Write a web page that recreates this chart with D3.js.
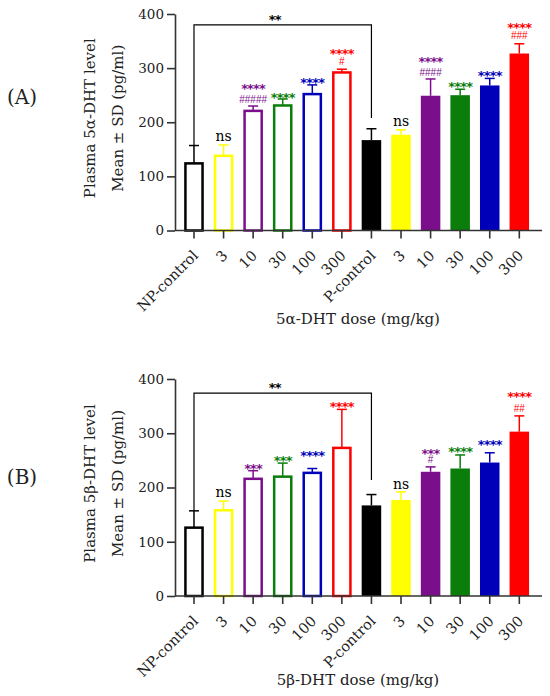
<!DOCTYPE html>
<html><head><meta charset="utf-8">
<script src="https://cdn.jsdelivr.net/npm/d3@7"></script>
<style>body{margin:0;background:#fff}</style>
</head><body>
<svg id="c" width="550" height="696"></svg>
<script>
// ---------- data ----------
const categories = ["NP-control","3","10","30","100","300","P-control","3","10","30","100","300"];
const barColors = ["#000000","#ffff00","#7b0f8b","#0a7d0a","#0000b8","#ff0000","#000000","#ffff00","#7b0f8b","#0a7d0a","#0000b8","#ff0000"];
const filled = [false,false,false,false,false,false,true,true,true,true,true,true];
const yTicks = [0,100,200,300,400];

// Panel A: plasma 5α-DHT
const meanA = [124,138,221,231,252,292,167,177,249,250,268,327];
const sdA   = [33,20,9,12,17,6,21,9,31,11,13,18];
const starsA = ["","ns","****","****","****","****","","ns","****","****","****","****"];
const hashA  = ["","","#####","","","#","","","####","","","###"];
const starLevelA = [null,172,267,252,278,333,null,201,317,271,292,380];
const hashLevelA = [null,null,243,null,null,313,null,null,293,null,null,360];

// Panel B: plasma 5β-DHT
const meanB = [126,158,216,220,227,273,167,177,229,235,246,303];
const sdB   = [31,17,15,25,8,71,20,15,9,25,18,29];
const starsB = ["","ns","***","***","****","****","","ns","***","****","****","****"];
const hashB  = ["","","","","","","","","#","","","##"];
const starLevelB = [null,189,241,256,264,355,null,205,268,272,284,373];
const hashLevelB = [null,null,null,null,null,null,null,null,251,null,null,345];

// comparison bracket NP-control vs P-control
const bracketFrom = 0, bracketTo = 6, bracketLabel = "**";
const bracketLevel = [380, 374];
const bracketLeftEnd = [157, 158];
const bracketRightEnd = [208, 214];
const bracketLabelLevel = [395, 389];

const panelLetters = ["(A)", "(B)"];
const yTitle1 = ["Plasma 5α-DHT level", "Plasma 5β-DHT level"];
const yTitle2 = ["Mean ± SD (pg/ml)", "Mean ± SD (pg/ml)"];
const xTitles = ["5α-DHT dose (mg/kg)", "5β-DHT dose (mg/kg)"];

// ---------- drawing ----------
const svg = d3.select("#c");
const SERIF = "'DejaVu Serif', serif";
const axisColor = "#333";

const panels = [
  {zero:230.5, top:14,  mean:meanA, sd:sdA, stars:starsA, hash:hashA, sl:starLevelA, hl:hashLevelA, titleY:324, letterY:104},
  {zero:596,   top:379, mean:meanB, sd:sdB, stars:starsB, hash:hashB, sl:starLevelB, hl:hashLevelB, titleY:685, letterY:484}
];

const x = d3.scaleBand().domain(d3.range(categories.length))
  .range([179.2, 534.1]).paddingInner(0.34).paddingOuter(0.17);
const bw = x.bandwidth();
const cx = i => x(i) + bw / 2;

function starText(g, xx, yy, txt, col) {
  return g.append("text").attr("x", xx).attr("y", yy + 7.4)
    .attr("text-anchor", "middle").attr("font-family", "'DejaVu Sans', sans-serif")
    .attr("font-weight", "bold").attr("letter-spacing", -0.8)
    .attr("font-size", 13).attr("fill", col).text(txt);
}

panels.forEach((p, pi) => {
  const g = svg.append("g");
  const y = d3.scaleLinear().domain([0, 400]).range([p.zero, p.top]);

  // bars
  categories.forEach((c, i) => {
    const col = barColors[i];
    if (filled[i]) {
      g.append("rect").attr("x", x(i)).attr("width", bw)
        .attr("y", y(p.mean[i])).attr("height", y(0) - y(p.mean[i]))
        .attr("fill", col);
    } else {
      g.append("rect").attr("x", x(i) + 1.2).attr("width", bw - 2.4)
        .attr("y", y(p.mean[i])).attr("height", y(0) - y(p.mean[i]))
        .attr("fill", "#fff").attr("stroke", col).attr("stroke-width", 2.5);
    }
    // error bar (upper)
    const ye = y(p.mean[i] + p.sd[i]);
    g.append("line").attr("x1", cx(i)).attr("x2", cx(i))
      .attr("y1", y(p.mean[i])).attr("y2", ye)
      .attr("stroke", col).attr("stroke-width", 1.5);
    g.append("line").attr("x1", cx(i) - 5).attr("x2", cx(i) + 5)
      .attr("y1", ye).attr("y2", ye)
      .attr("stroke", col).attr("stroke-width", 1.5);

    // annotations
    if (p.stars[i] === "ns") {
      g.append("text").attr("x", cx(i)).attr("y", y(p.sl[i]) + 4)
        .attr("text-anchor", "middle").attr("font-family", SERIF)
        .attr("font-size", 14).attr("fill", "#000").text("ns");
    } else if (p.stars[i]) {
      starText(g, cx(i), y(p.sl[i]), p.stars[i], col);
    }
    if (p.hash[i]) {
      g.append("text").attr("x", cx(i)).attr("y", y(p.hl[i]) + 3.6)
        .attr("text-anchor", "middle").attr("font-family", "'Liberation Sans', sans-serif")
        .attr("font-size", 10).attr("fill", col).text(p.hash[i]);
    }
  });

  // axes
  const yAxis = d3.axisLeft(y).tickValues(yTicks).tickSize(8).tickSizeOuter(0).tickPadding(3);
  const ya = g.append("g").attr("transform", "translate(175,0)").call(yAxis);
  ya.select(".domain").attr("stroke", axisColor).attr("stroke-width", 1.6);
  ya.selectAll(".tick line").attr("stroke", axisColor).attr("stroke-width", 1.6);
  ya.selectAll(".tick text").attr("font-family", SERIF).attr("font-size", 13.5).attr("fill", "#222");

  const xAxis = d3.axisBottom(x).tickSize(8).tickSizeOuter(0).tickFormat(i => categories[i]);
  const xa = g.append("g").attr("transform", `translate(0,${p.zero})`).call(xAxis);
  xa.select(".domain").remove();
  xa.selectAll(".tick line").attr("stroke", axisColor).attr("stroke-width", 1.6);
  xa.selectAll(".tick text")
    .attr("font-family", SERIF).attr("font-size", 14.5).attr("fill", "#222")
    .attr("text-anchor", "end").attr("dy", null).attr("y", null)
    .attr("transform", `translate(5,26) rotate(-45)`);
  g.append("line").attr("x1", 175).attr("x2", 542).attr("y1", p.zero).attr("y2", p.zero)
    .attr("stroke", axisColor).attr("stroke-width", 1.6);

  // bracket
  const bl = y(bracketLevel[pi]);
  g.append("path")
    .attr("d", `M${cx(bracketFrom)},${y(bracketLeftEnd[pi])}V${bl}H${cx(bracketTo)}V${y(bracketRightEnd[pi])}`)
    .attr("fill", "none").attr("stroke", "#000").attr("stroke-width", 1.2);
  starText(g, (cx(bracketFrom) + cx(bracketTo)) / 2 - 8, y(bracketLabelLevel[pi]), bracketLabel, "#000");

  // y title
  const yc = (p.zero + p.top) / 2 - 4;
  g.append("text").attr("transform", `translate(95,${yc}) rotate(-90)`)
    .attr("text-anchor", "middle").attr("font-family", SERIF).attr("font-size", 15)
    .attr("fill", "#222").text(yTitle1[pi]);
  g.append("text").attr("transform", `translate(123,${yc}) rotate(-90)`)
    .attr("text-anchor", "middle").attr("font-family", SERIF).attr("font-size", 15)
    .attr("fill", "#222").text(yTitle2[pi]);

  // x title
  g.append("text").attr("x", 358).attr("y", p.titleY)
    .attr("text-anchor", "middle").attr("font-family", SERIF).attr("font-size", 15)
    .attr("fill", "#222").text(xTitles[pi]);

  // panel letter
  g.append("text").attr("x", 22).attr("y", p.letterY)
    .attr("text-anchor", "middle").attr("font-family", SERIF).attr("font-size", 20)
    .attr("fill", "#222").text(panelLetters[pi]);
});
</script>
</body></html>
